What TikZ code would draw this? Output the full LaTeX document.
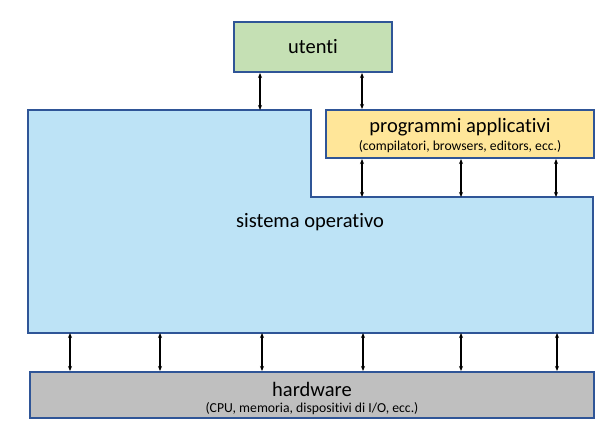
\documentclass[tikz,border=0pt]{standalone}
\usepackage{fontspec}
\setmainfont{Carlito}[Ligatures={NoCommon,NoRare}]
\usetikzlibrary{arrows.meta}
\definecolor{bordo}{HTML}{2F5597}
\definecolor{verde}{HTML}{C5E0B4}
\definecolor{giallo}{HTML}{FFE699}
\definecolor{azzurro}{HTML}{BDE3F6}
\definecolor{grigio}{HTML}{BFBFBF}
\tikzset{
  box/.style={draw=bordo, line width=2pt, inner sep=0pt, align=center},
  big/.style={font=\fontsize{20.5}{23}\selectfont},
  small/.style={font=\fontsize{13.7}{15}\selectfont},
  link/.style={black, line width=1.1pt, {Stealth[length=5pt,width=4pt]}-{Stealth[length=5pt,width=4pt]}}
}
\begin{document}
\begin{tikzpicture}[x=1pt,y=-1pt]
\useasboundingbox (0,0) rectangle (604,429);
% boxes
\node[box, fill=verde, minimum width=158pt, minimum height=50pt, big] (ut) at (313,47) {utenti};
\node[box, fill=giallo, minimum width=268pt, minimum height=48pt] (pa) at (460,134) {};
\node[big] (pat) at (460,127) {programmi applicativi};
\node[small] (pas) at (460,147) {(compilatori, browsers, editors, ecc.)};
\draw[draw=bordo, line width=2pt, fill=azzurro] (28,110) -- (311,110) -- (311,197) -- (593,197) -- (593,333) -- (28,333) -- cycle;
\node[big] (so) at (310,222) {sistema operativo};
\node[box, fill=grigio, minimum width=564pt, minimum height=46pt] (hw) at (312,395) {};
\node[big] (hwt) at (312,389) {hardware};
\node[small] (hws) at (312,409) {(CPU, memoria, dispositivi di I/O, ecc.)};
% coordinates on OS
\coordinate (os1) at (260,110);
\coordinate (os2) at (362,197);
\coordinate (os3) at (461,197);
\coordinate (os4) at (556,197);
\foreach \i/\x in {1/70,2/160,3/262,4/363,5/461,6/557}{
  \coordinate (ob\i) at (\x,333);
}
% connectors
\draw[link] (ut.south -| os1) -- (os1);
\draw[link] (ut.south -| 362,0) -- (pa.north -| 362,0);
\draw[link] (pa.south -| os2) -- (os2);
\draw[link] (pa.south -| os3) -- (os3);
\draw[link] (pa.south -| os4) -- (os4);
\foreach \i in {1,...,6}{
  \draw[link] (ob\i) -- (hw.north -| ob\i);
}
\end{tikzpicture}
\end{document}
